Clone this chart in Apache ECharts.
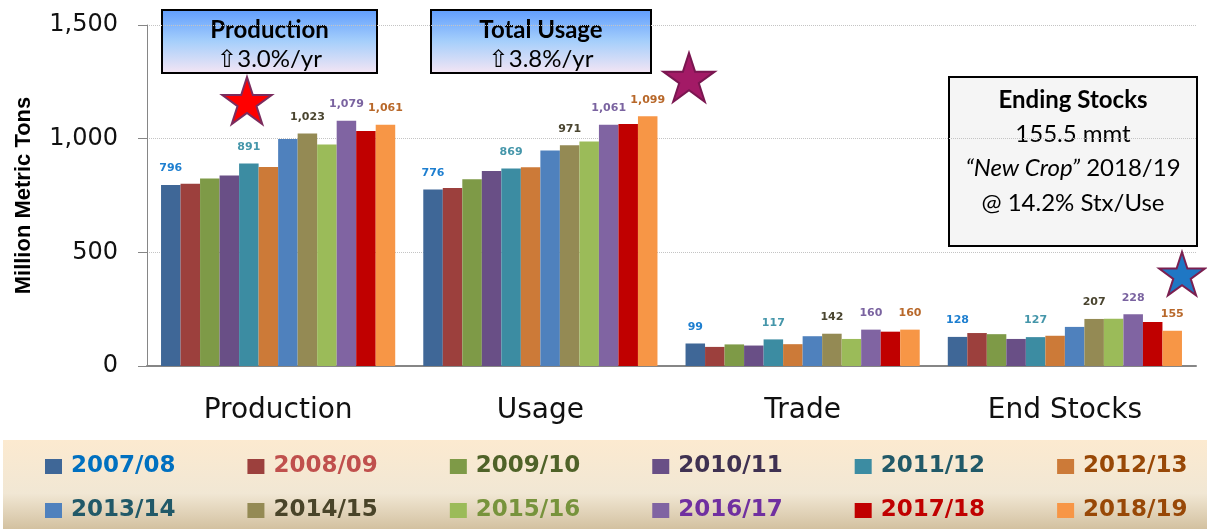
<!DOCTYPE html>
<html>
<head>
<meta charset="utf-8">
<script src="https://cdn.jsdelivr.net/npm/echarts@6/dist/echarts.min.js"></script>
<style>
  html, body { margin: 0; padding: 0; background: #fff; }
  #main { width: 1207px; height: 529px; }
</style>
</head>
<body>
<div id="main"></div>
<script>
// categories on x axis
var categories = ['Production', 'Usage', 'Trade', 'End Stocks'];
// marketing years (one series each)
var years = ['2007/08', '2008/09', '2009/10', '2010/11', '2011/12', '2012/13',
             '2013/14', '2014/15', '2015/16', '2016/17', '2017/18', '2018/19'];
// values per metric, million metric tons, one per year
var production = [796, 802, 825, 838, 891, 875, 998, 1023, 974, 1079, 1034, 1061];
var usage      = [776, 783, 822, 858, 869, 874, 948, 971, 988, 1061, 1065, 1099];
var trade      = [99, 84, 95, 90, 117, 96, 131, 142, 119, 160, 151, 160];
var endStocks  = [128, 145, 140, 119, 127, 133, 172, 207, 208, 228, 194, 155];
var yTicks = [0, 500, 1000, 1500];

var barColors = ['#3F6797', '#9C403D', '#7E9A47', '#694F86', '#3C8CA2', '#CC7A38',
                 '#4F81BD', '#948A54', '#9BBB59', '#8064A2', '#C00000', '#F79646'];
var legendColors = ['#0070C0', '#C0504D', '#4F6228', '#3F3151', '#215968', '#984807',
                    '#215968', '#494429', '#77933C', '#7030A0', '#C00000', '#984807'];
// only a few years carry value labels
var labelColors = {0: '#1E7FD0', 4: '#4596AA', 7: '#4A4530', 9: '#7A63A0', 11: '#B8682A'};

var myChart = echarts.init(document.getElementById('main'));

var series = years.map(function (y, i) {
    return {
        name: y,
        type: 'bar',
        barGap: '0%',
        barCategoryGap: '10.7%',
        itemStyle: { color: barColors[i] },
        label: {
            show: labelColors[i] !== undefined,
            position: 'top',
            distance: 11,
            color: labelColors[i],
            fontFamily: 'DejaVu Sans',
            fontWeight: 'bold',
            fontSize: 11,
            formatter: function (p) { return p.value.toLocaleString('en-US'); }
        },
        data: [production[i], usage[i], trade[i], endStocks[i]]
    };
});

function legendData(from, to) {
    var out = [];
    for (var i = from; i < to; i++) {
        out.push({ name: years[i], textStyle: { color: legendColors[i] } });
    }
    return out;
}
var legendCommon = {
    left: 45,
    width: 1160,
    padding: 0,
    itemWidth: 17,
    itemHeight: 15,
    itemGap: 72,
    icon: 'rect',
    textStyle: {
        fontFamily: 'DejaVu Sans',
        fontWeight: 'bold',
        fontSize: 23,
        padding: [0, 0, 0, 4]
    }
};

// star outline for the annotations
function starPoints(cx, cy, R) {
    var pts = [], r = R * 0.382;
    for (var k = 0; k < 10; k++) {
        var rad = k % 2 === 0 ? R : r;
        var a = -Math.PI / 2 + k * Math.PI / 5;
        pts.push([cx + rad * Math.cos(a), cy + rad * Math.sin(a)]);
    }
    return pts;
}
function star(cx, cy, R, fill, stroke) {
    return {
        type: 'polygon', z: 20,
        shape: { points: starPoints(cx, cy, R) },
        style: { fill: fill, stroke: stroke, lineWidth: 2 }
    };
}
var blueBox = {
    type: 'linear', x: 0, y: 0, x2: 0, y2: 1,
    colorStops: [
        { offset: 0, color: '#5E9CFD' },
        { offset: 0.5, color: '#A6CFFB' },
        { offset: 1, color: '#F6E6F4' }
    ]
};
function growthBox(x, w, title, sub) {
    return {
        type: 'group', z: 20,
        children: [
            { type: 'rect', shape: { x: x, y: 10, width: w, height: 63 },
              style: { fill: blueBox, stroke: '#000', lineWidth: 2 } },
            { type: 'text', style: { text: title, x: x + w / 2, y: 30, align: 'center', verticalAlign: 'middle',
              font: 'bold 24px Lato, "DejaVu Sans"', fill: '#000' } },
            { type: 'text', style: { text: sub, x: x + w / 2, y: 59, align: 'center', verticalAlign: 'middle',
              font: '24px Lato, "DejaVu Sans"', fill: '#000' } }
        ]
    };
}

myChart.setOption({
    animation: false,
    grid: { left: 147, right: 11, top: 25, bottom: 163 },
    legend: [
        Object.assign({}, legendCommon, { top: 455, data: legendData(0, 6) }),
        Object.assign({}, legendCommon, { top: 499, data: legendData(6, 12) })
    ],
    xAxis: {
        type: 'category',
        data: categories,
        axisLine: { lineStyle: { color: '#868686', width: 2 } },
        axisTick: { show: false },
        axisLabel: { margin: 31, fontFamily: 'DejaVu Sans', fontSize: 28, color: '#111' }
    },
    yAxis: {
        type: 'value',
        min: yTicks[0],
        max: yTicks[yTicks.length - 1],
        interval: yTicks[1] - yTicks[0],
        name: 'Million Metric Tons',
        nameLocation: 'middle',
        nameGap: 112,
        nameTextStyle: { fontFamily: 'Liberation Sans', fontWeight: 'bold', fontSize: 22, color: '#000' },
        axisLine: { show: true, lineStyle: { color: '#868686' } },
        axisTick: { show: true, length: 9, lineStyle: { color: '#868686' } },
        axisLabel: {
            margin: 29, fontFamily: 'DejaVu Sans', fontSize: 24, color: '#111',
            formatter: function (v) { return v.toLocaleString('en-US'); }
        },
        splitLine: { lineStyle: { color: '#C4C4C4', type: 'dotted' } }
    },
    graphic: [
        // legend band
        { type: 'rect', z: -1, shape: { x: 3, y: 440, width: 1204, height: 89 },
          style: { fill: { type: 'linear', x: 0, y: 0, x2: 0, y2: 1, colorStops: [
              { offset: 0, color: '#FCEAD0' }, { offset: 0.6, color: '#F1E7D4' }, { offset: 1, color: '#D3C1A0' }] } } },
        growthBox(162, 215, 'Production', '\u21E73.0%/yr'),
        growthBox(431, 220, 'Total Usage', '\u21E73.8%/yr'),
        // ending stocks note
        { type: 'group', z: 20, children: [
            { type: 'rect', shape: { x: 949, y: 77, width: 248, height: 169 },
              style: { fill: '#F5F5F5', stroke: '#000', lineWidth: 2 } },
            { type: 'text', style: { text: 'Ending Stocks', x: 1073, y: 100, align: 'center', verticalAlign: 'middle',
              font: 'bold 24px Lato', fill: '#000' } },
            { type: 'text', style: { text: '155.5 mmt', x: 1073, y: 134, align: 'center', verticalAlign: 'middle',
              font: '24px Lato', fill: '#000' } },
            { type: 'text', style: { text: '{i|\u201CNew Crop\u201D} 2018/19', x: 1073, y: 168, align: 'center', verticalAlign: 'middle',
              font: '24px Lato', fill: '#000', rich: { i: { fontStyle: 'italic', fontFamily: 'Lato', fontSize: 24, fill: '#000' } } } },
            { type: 'text', style: { text: '@ 14.2% Stx/Use', x: 1073, y: 203, align: 'center', verticalAlign: 'middle',
              font: '24px Lato', fill: '#000' } }
        ] },
        star(247, 103, 26, '#FF0000', '#7B2C5E'),
        star(689, 80, 27, '#A31A66', '#7A1650'),
        star(1182, 276, 24, '#1F77C4', '#7B2050')
    ],
    series: series
});
</script>
</body>
</html>
